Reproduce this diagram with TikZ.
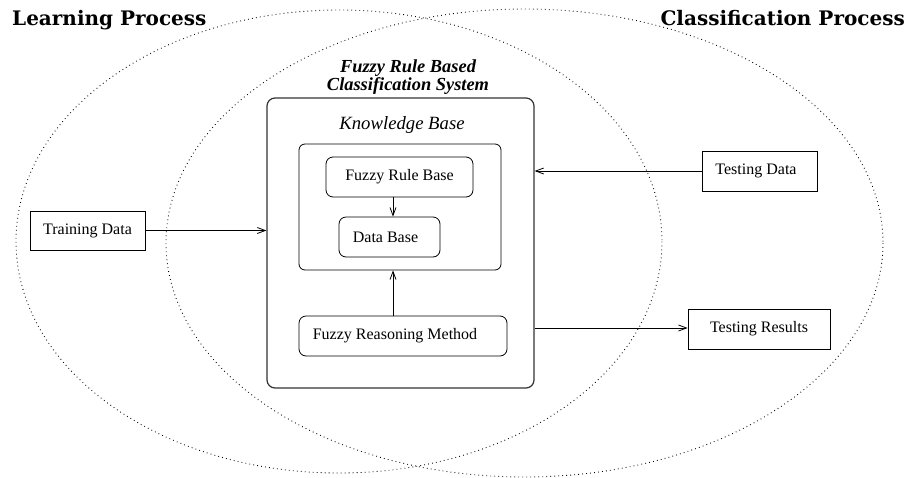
\documentclass[tikz,border=0pt]{standalone}
\usepackage{fontspec}
\setmainfont{Liberation Serif}
\newfontfamily\headfont{DejaVu Serif}
\usetikzlibrary{arrows.meta}

\tikzset{
  region/.style={draw=black, line width=0.9pt, dash pattern=on 0.8pt off 3.2pt},
  plainbox/.style={draw, line width=0.8pt, rectangle, inner sep=0pt,
    font=\fontsize{16}{18}\selectfont},
  roundbox/.style={draw, line width=0.8pt, rectangle, rounded corners=7pt, inner sep=0pt,
    font=\fontsize{16}{18}\selectfont},
  sysbox/.style={draw=black!80, line width=1.2pt, rectangle, rounded corners=8pt, inner sep=0pt},
  heading/.style={font=\headfont\bfseries\fontsize{20}{22}\selectfont, inner sep=0pt},
  flow/.style={line width=0.8pt, -{Straight Barb[length=8pt,width=6pt,line width=0.8pt]}},
}

\begin{document}
\begin{tikzpicture}[x=1pt,y=-1pt]
  \useasboundingbox (0,0) rectangle (909,477);

  % the two overlapping process regions
  \draw[region] (339,241.5) ellipse [x radius=323, y radius=231.5];
  \draw[region] (524.5,243) ellipse [x radius=358.5, y radius=234];

  \node[heading, anchor=base west] (learn) at (12,25) {Learning Process};
  \node[heading, anchor=base east] (classify) at (905,25) {Classification Process};

  % fuzzy rule based classification system
  \node[align=center, inner sep=0pt, anchor=base,
        font=\bfseries\itshape\fontsize{18.4}{18}\selectfont] (systitle) at (408,90)
        {Fuzzy Rule Based\\Classification System};
  \node[sysbox, minimum width=267pt, minimum height=290pt] (sys) at (400.5,243) {};
  \node[inner sep=0pt, font=\itshape\fontsize{18.7}{20}\selectfont] (kblabel) at (402,125) {Knowledge Base};
  \node[roundbox, rounded corners=6pt, minimum width=202pt, minimum height=126pt] (kb) at (400,207) {};
  \node[roundbox, minimum width=147pt, minimum height=40pt] (frb) at (399.5,177) {Fuzzy Rule Base};
  \node[roundbox, minimum width=101pt, minimum height=40pt] (db) at (389.5,237) {Data Base\hspace*{8pt}};
  \node[roundbox, minimum width=208pt, minimum height=40pt] (frm) at (403,336) {Fuzzy Reasoning Method\hspace*{16pt}};

  % data sources and results
  \node[plainbox, minimum width=115pt, minimum height=39pt] (train) at (87.5,230.5) {Training Data};
  \node[plainbox, minimum width=115pt, minimum height=40pt] (tdata) at (759.5,171) {Testing Data\hspace*{7pt}};
  \node[plainbox, minimum width=142pt, minimum height=40pt] (tres) at (759,329) {Testing Results};

  % connectors
  \draw[flow] ([xshift=-6.5pt]frb.south) -- ([xshift=-6.5pt]frb.south |- db.north);
  \draw[flow] ([xshift=-10pt]frm.north) -- ([xshift=-10pt]frm.north |- kb.south);
  \draw[flow] (train.east) -- (train.east -| sys.west);
  \draw[flow] (tdata.west) -- (tdata.west -| sys.east);
  \draw[flow] ([yshift=1pt]tres.west -| sys.east) -- ([yshift=1pt]tres.west);
\end{tikzpicture}
\end{document}
